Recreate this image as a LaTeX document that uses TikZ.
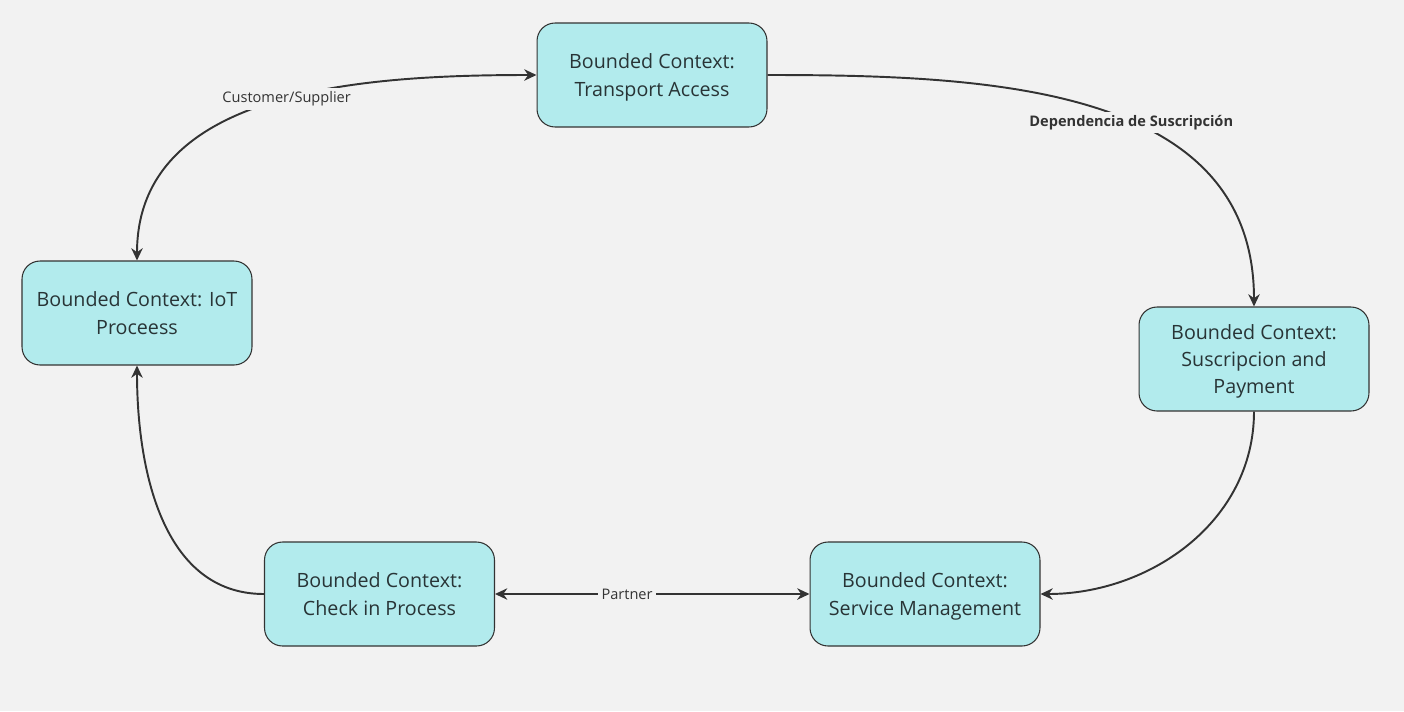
\documentclass[tikz,border=0pt]{standalone}
\usepackage{fontspec}
\setmainfont{Open Sans}
\usepackage{tikz}
\usetikzlibrary{arrows.meta}
\tikzstyle{board} = [x = 0.02cm, y = -0.02cm]
\definecolor{boardColor}{RGB}{242,242,242}
\definecolor{contextColor}{RGB}{178,235,237}
\definecolor{lineColor}{RGB}{51,51,51}
\definecolor{textColor}{RGB}{40,52,54}
\tikzstyle{contextBox} = [draw=lineColor, fill=contextColor, rounded corners = .36cm, line width=.6pt,
  minimum width=4.6cm, minimum height=2.08cm, align=center, text=textColor,
  font=\fontsize{11.2}{15.4}\selectfont, inner sep=2pt, text depth=0pt]
\tikzstyle{relationLine} = [draw=lineColor, line width=1.1pt, >={Stealth[length=7pt, width=6.5pt]}]
\tikzstyle{relationText} = [fill=boardColor, text=lineColor, inner sep=2pt, font=\fontsize{8.3}{10}\selectfont]
\newcommand{\boundedContext}[3]{\node [contextBox] (#1) at (#2) {#3};}

\begin{document}
\begin{tikzpicture}[board]
  \fill [boardColor] (0,0) rectangle (1404,711);
  \useasboundingbox (0,0) rectangle (1404,711);

  \boundedContext{transport}{652,75}{Bounded Context:\\Transport Access}
  \boundedContext{iot}{137,313}{Bounded Context: IoT\\Proceess}
  \boundedContext{payment}{1254,359}{Bounded Context:\\Suscripcion and\\Payment}
  \boundedContext{checkin}{379.5,594}{Bounded Context:\\Check in Process}
  \boundedContext{service}{925,594}{Bounded Context:\\Service Management}

  \draw [relationLine, <->] (iot.north) to [out=90, in=180, looseness=1]
    node [relationText, pos=.53] {Customer/Supplier} (transport.west);
  \draw [relationLine, ->] (transport.east) to [out=0, in=90, looseness=1.05]
    node [relationText, pos=.57, font=\fontsize{8.3}{10}\selectfont\bfseries] {Dependencia de Suscripción} (payment.north);
  \draw [relationLine, ->] (payment.south) to [out=-90, in=0] (service.east);
  \draw [relationLine, ->] (checkin.west) to [out=180, in=-90] (iot.south);
  \draw [relationLine, <->] (checkin.east) -- node [relationText, pos=.42] {Partner} (service.west);
\end{tikzpicture}
\end{document}
